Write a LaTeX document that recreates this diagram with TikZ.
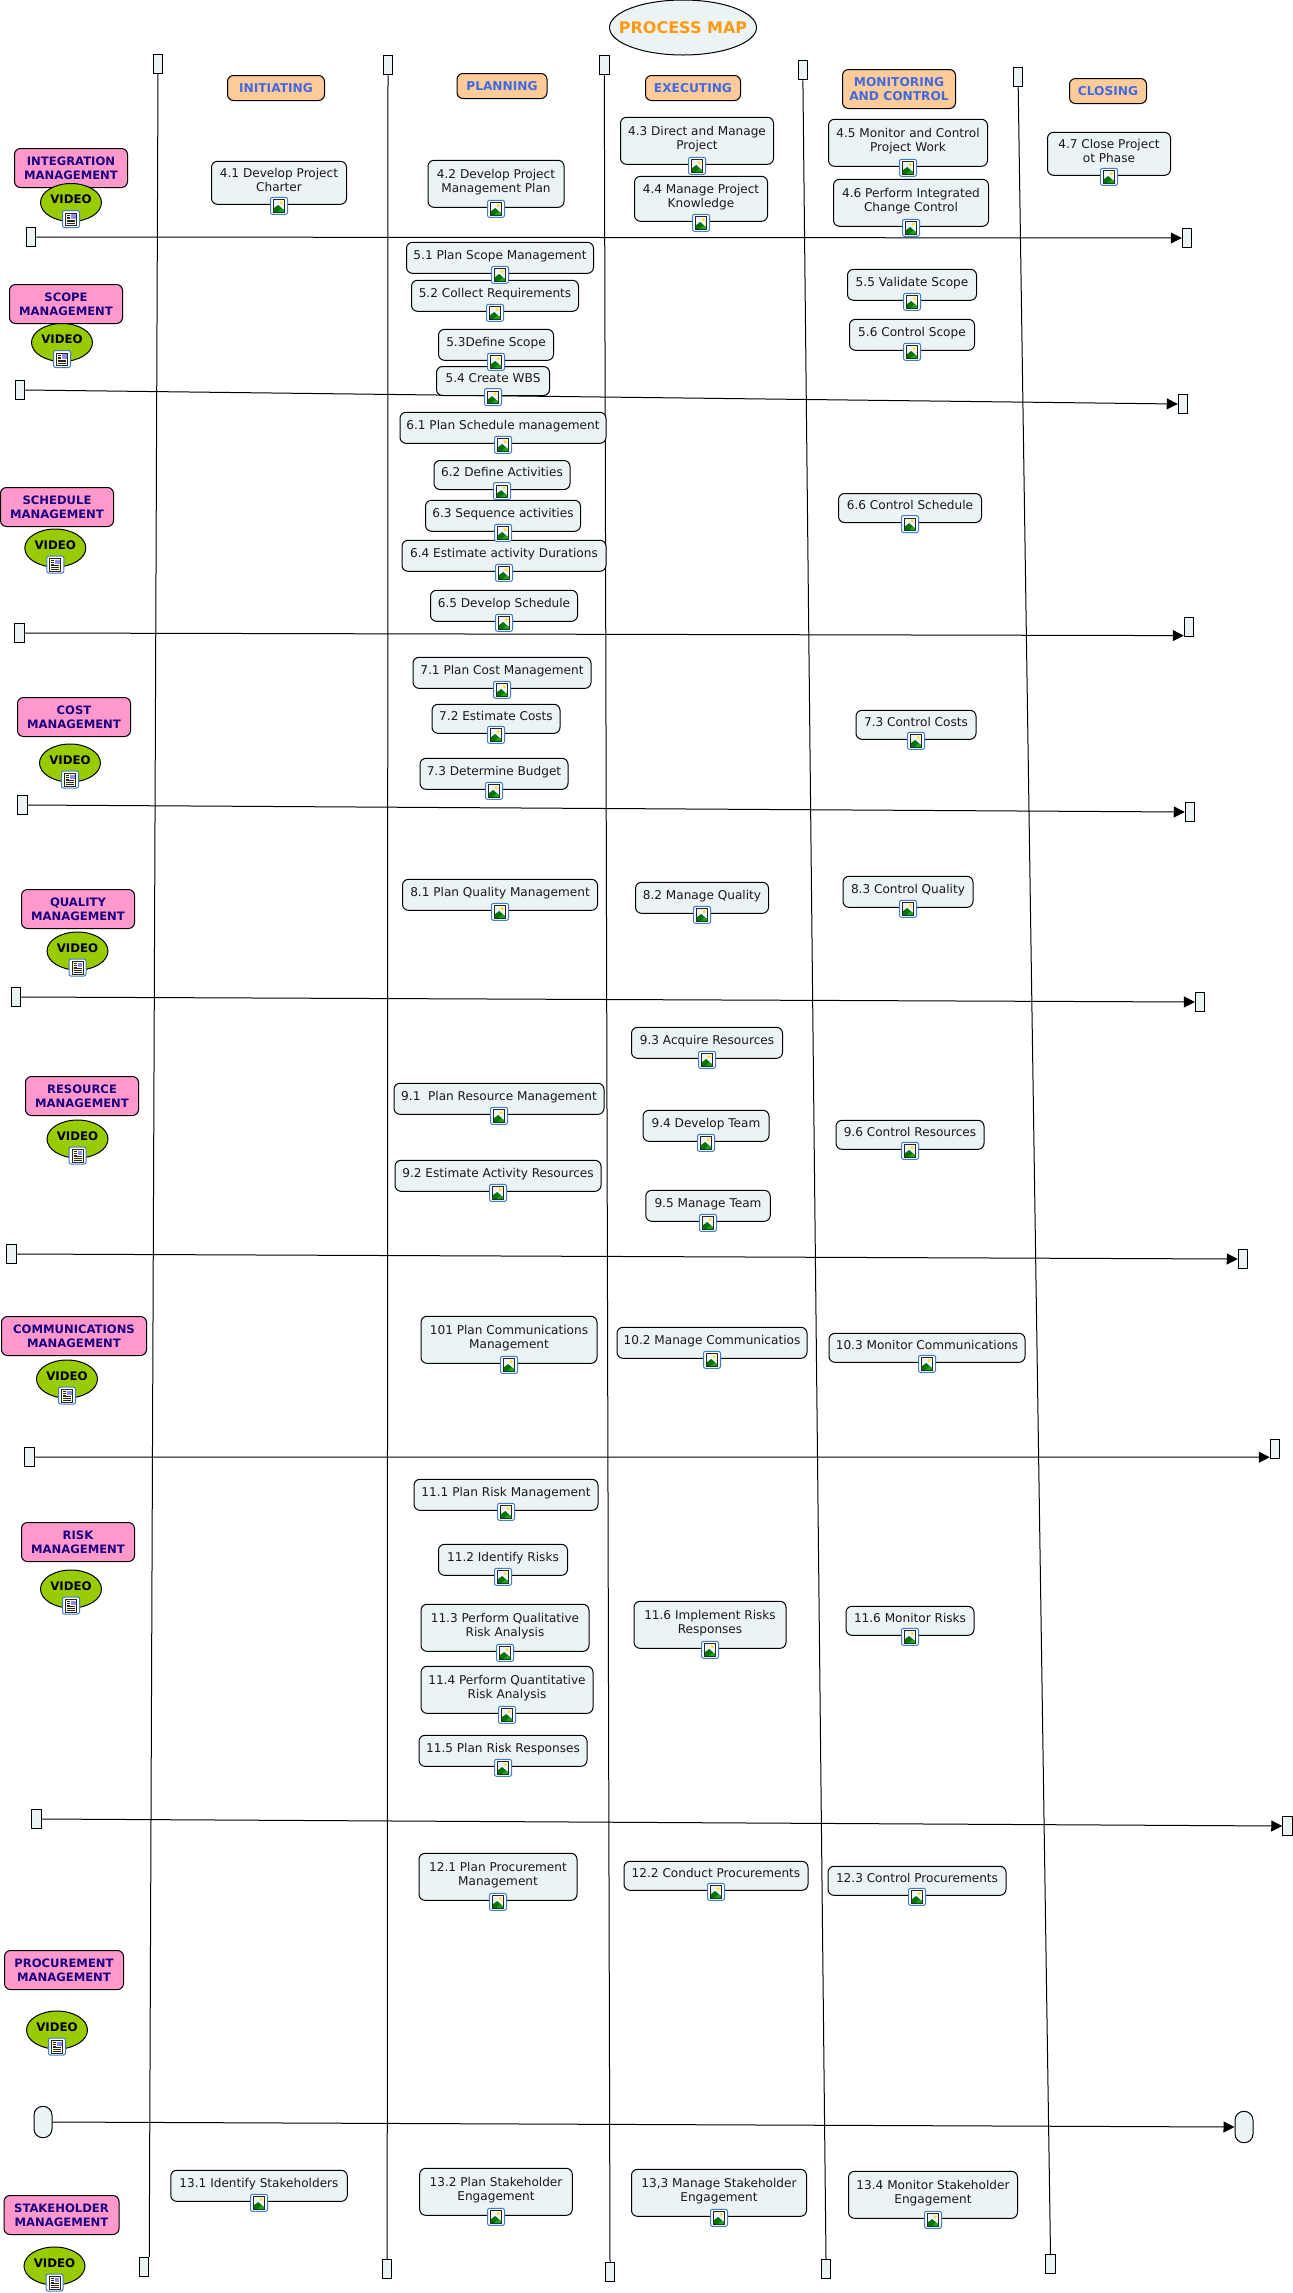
\documentclass[tikz,border=0pt]{standalone}
\usepackage{fontspec}
\setmainfont{DejaVu Sans}
\usepackage{tikz}
\usetikzlibrary{arrows.meta,shapes.geometric,shapes.misc}
\definecolor{boxfill}{HTML}{ECF3F5}
\definecolor{phasefill}{HTML}{FFCC99}
\definecolor{phasetext}{HTML}{4169E1}
\definecolor{areafill}{HTML}{FF99CC}
\definecolor{areatext}{HTML}{1A0080}
\definecolor{videofill}{HTML}{99CC00}
\definecolor{titletext}{HTML}{FF9912}
\definecolor{iconblue}{HTML}{3F7CCB}
\newcommand{\lowdepth}{\rule[-3pt]{0pt}{3pt}}
\tikzset{
  wh/.style 2 args={minimum width=#1*.5pt,minimum height=#2*.5pt},
  photoicon/.pic={
    \draw[iconblue,line width=.5pt,fill=white,rounded corners=1pt] (-8.5,-7.5) rectangle (8.5,9.5);
    \draw[black!85,line width=.5pt,fill=blue!5] (-5.5,-5) rectangle (5.5,7.5);
    \fill[green!45!black] (-5.2,7.2) -- (-5.2,3.5) -- (-.8,.2) -- (5.2,5.5) -- (5.2,7.2) -- cycle;
    \fill[green!60!black!90!white] (-1.5,7.2) -- (2.5,3.5) -- (5.2,5.5) -- (5.2,7.2) -- cycle;
    \fill[yellow!85!orange] (2.2,-2.2) circle (1.6);
  },
  docicon/.pic={
    \draw[iconblue,line width=.5pt,fill=white,rounded corners=1pt] (-8.5,-7.5) rectangle (8.5,9.5);
    \draw[black!85,line width=.5pt,fill=yellow!10] (-5.5,-5) rectangle (5.5,7.5);
    \fill[blue!45] (0,-3.8) rectangle (4.5,.5);
    \foreach \ly in {2,3.7,5.4} \draw[black!85,line width=.4pt] (-4,\ly) -- (4,\ly);
    \foreach \ly in {-3,-1,.8} \draw[black!85,line width=.4pt] (-4,\ly) -- (-1,\ly);
  }
}
\begin{document}
\begin{tikzpicture}[x=.5pt,y=-.5pt]
      \tikzstyle{task}=[rectangle,rounded corners=3pt,draw=black,line width=.5pt,fill=boxfill,inner sep=0pt,align=center,text=black!90,font=\fontsize{6.05}{7.3}\selectfont,execute at end node=\lowdepth]
      \tikzstyle{phase}=[rectangle,rounded corners=3pt,draw=black,line width=.5pt,fill=phasefill,inner sep=0pt,align=center,text=phasetext,font=\fontsize{6.1}{7.2}\selectfont\bfseries]
      \tikzstyle{area}=[rectangle,rounded corners=3pt,draw=black,line width=.5pt,fill=areafill,inner sep=0pt,align=center,text=areatext,font=\fontsize{5.8}{7.2}\selectfont\bfseries]
      \tikzstyle{video}=[ellipse,draw=black,line width=.5pt,fill=videofill,inner sep=0pt,minimum width=30.5pt,minimum height=19pt,font=\fontsize{5.9}{7.2}\selectfont\bfseries,execute at end node=\lowdepth]
      \tikzstyle{handle}=[rectangle,draw=black,line width=.5pt,fill=boxfill,inner sep=0pt,minimum width=4.75pt,minimum height=9.75pt]
      \tikzstyle{pill}=[rectangle,rounded corners=4.4pt,draw=black,line width=.5pt,fill=boxfill,inner sep=0pt,minimum width=9pt,minimum height=15.7pt]
      \tikzstyle{rule}=[line width=.5pt]
      \tikzstyle{flow}=[line width=.5pt,-{Triangle[length=5.5pt,width=5.5pt]}]
      \useasboundingbox (0,0) rectangle (1293,2293);

      % handles of the columns
      \node[handle] (coltop1) at (158,63.8) {};
      \node[handle] (colend1) at (144,2267) {};
      \node[handle] (coltop2) at (388,65) {};
      \node[handle] (colend2) at (387.2,2269) {};
      \node[handle] (coltop3) at (604.3,65) {};
      \node[handle] (colend3) at (610,2272) {};
      \node[handle] (coltop4) at (802.9,70) {};
      \node[handle] (colend4) at (826,2269) {};
      \node[handle] (coltop5) at (1018.2,77) {};
      \node[handle] (colend5) at (1050.5,2264) {};

      \draw[rule] (coltop1.south) -- (colend1.north east);
      \draw[rule] (coltop2.south) -- (colend2.north);
      \draw[rule] (coltop3.south) -- (colend3.north);
      \draw[rule] (coltop4.south) -- (colend4.north);
      \draw[rule] (coltop5.south) -- (colend5.north);

      % handles of the rows
      \node[handle] (rowa1) at (31,237) {};
      \node[handle] (rowb1) at (1187,238) {};
      \node[handle] (rowa2) at (20,390) {};
      \node[handle] (rowb2) at (1183,404) {};
      \node[handle] (rowa3) at (19.4,633) {};
      \node[handle] (rowb3) at (1189,627) {};
      \node[handle] (rowa4) at (22.3,805) {};
      \node[handle] (rowb4) at (1190,812) {};
      \node[handle] (rowa5) at (16,997) {};
      \node[handle] (rowb5) at (1200.2,1002) {};
      \node[handle] (rowa6) at (11.5,1254) {};
      \node[handle] (rowb6) at (1243,1259) {};
      \node[handle] (rowa7) at (29.3,1457) {};
      \node[handle] (rowb7) at (1275,1449) {};
      \node[handle] (rowa8) at (36.3,1819) {};
      \node[handle] (rowb8) at (1287.5,1826) {};
      \node[pill] (rowa9) at (43,2122) {};
      \node[pill] (rowb9) at (1244,2127) {};

      \draw[flow] (rowa1.east) -- (rowb1.west);
      \draw[flow] (rowa2.east) -- (rowb2.west);
      \draw[flow] (rowa3.east) -- ([yshift=-4.3pt]rowb3.west);
      \draw[flow] (rowa4.east) -- (rowb4.west);
      \draw[flow] (rowa5.east) -- (rowb5.west);
      \draw[flow] (rowa6.east) -- (rowb6.west);
      \draw[flow] (rowa7.east) -- ([yshift=-4.1pt]rowb7.west);
      \draw[flow] (rowa8.east) -- (rowb8.west);
      \draw[flow] (rowa9.east) -- (rowb9.west);

      \node[ellipse,draw=black,line width=.5pt,fill=boxfill,inner sep=0pt,wh={147}{55},text=titletext,font=\fontsize{8}{9}\selectfont\bfseries] (title) at (683,27.5) {\makebox[0pt]{PROCESS MAP}};

      % process groups
      \node[phase,wh={97}{25}] (initiating) at (276,88) {INITIATING};
      \node[phase,wh={90}{25}] (planning) at (502,86) {PLANNING};
      \node[phase,wh={95}{25}] (executing) at (693,88) {EXECUTING};
      \node[phase,wh={113}{39}] (monitoring) at (899,89) {MONITORING\\AND CONTROL};
      \node[phase,wh={77}{25}] (closing) at (1108,91) {CLOSING};

      % knowledge areas
      \node[area,wh={113}{39}] (integration) at (71,168) {INTEGRATION\\MANAGEMENT};
      \node[area,wh={113}{39}] (scope) at (66,304) {SCOPE\\MANAGEMENT};
      \node[area,wh={113}{39}] (schedule) at (57,507) {SCHEDULE\\MANAGEMENT};
      \node[area,wh={113}{39}] (cost) at (74,717) {COST\\MANAGEMENT};
      \node[area,wh={113}{39}] (quality) at (78,909) {QUALITY\\MANAGEMENT};
      \node[area,wh={113}{39}] (resource) at (82,1096) {RESOURCE\\MANAGEMENT};
      \node[area,wh={145}{39}] (communications) at (74,1336) {COMMUNICATIONS\\MANAGEMENT};
      \node[area,wh={113}{39}] (risk) at (78,1542) {RISK\\MANAGEMENT};
      \node[area,wh={119}{39}] (procurement) at (64,1970) {PROCUREMENT\\MANAGEMENT};
      \node[area,wh={115}{39}] (stakeholder) at (61.5,2215) {STAKEHOLDER\\MANAGEMENT};

      \node[video] (video1) at (71,202.5) {VIDEO};
      \node[video] (video2) at (62,342.5) {VIDEO};
      \node[video] (video3) at (55.3,548) {VIDEO};
      \node[video] (video4) at (70,763) {VIDEO};
      \node[video] (video5) at (77.5,951) {VIDEO};
      \node[video] (video6) at (77.5,1139) {VIDEO};
      \node[video] (video7) at (67,1379) {VIDEO};
      \node[video] (video8) at (71,1589) {VIDEO};
      \node[video] (video9) at (57,2030) {VIDEO};
      \node[video] (video10) at (54.5,2266) {VIDEO};

      % integration
      \node[task,wh={135}{43}] (charter) at (279,182.8) {4.1 Develop Project\\Charter};
      \node[task,wh={136}{47}] (pmplan) at (496,183.8) {4.2 Develop Project\\Management Plan};
      \node[task,wh={153}{47}] (direct) at (697,140.8) {4.3 Direct and Manage\\Project};
      \node[task,wh={133}{45}] (knowledge) at (701,198.8) {4.4 Manage Project\\Knowledge};
      \node[task,wh={159}{47}] (monwork) at (908,142.8) {4.5 Monitor and Control\\Project Work};
      \node[task,wh={155}{47}] (change) at (911,202.8) {4.6 Perform Integrated\\Change Control};
      \node[task,wh={123}{43}] (closeph) at (1109,153.8) {4.7 Close Project\\ot Phase};
      % scope
      \node[task,wh={187}{31}] (planscope) at (500,257.8) {5.1 Plan Scope Management};
      \node[task,wh={167}{31}] (collect) at (495,295.8) {5.2 Collect Requirements};
      \node[task,wh={115}{31}] (define) at (496,344.8) {5.3Define Scope};
      \node[task,wh={113}{29}] (wbs) at (493,381) {5.4 Create WBS};
      \node[task,wh={129}{31}] (validate) at (912,284.8) {5.5 Validate Scope};
      \node[task,wh={125}{31}] (ctlscope) at (912,334.8) {5.6 Control Scope};
      % schedule
      \node[task,wh={206}{31}] (plansched) at (503,427.8) {6.1 Plan Schedule management};
      \node[task,wh={136}{29}] (activities) at (502,475) {6.2 Define Activities};
      \node[task,wh={155}{31}] (sequence) at (503,515.8) {6.3 Sequence activities};
      \node[task,wh={204}{31}] (durations) at (504,555.8) {6.4 Estimate activity Durations};
      \node[task,wh={147}{31}] (devsched) at (504,605.8) {6.5 Develop Schedule};
      \node[task,wh={143}{29}] (ctlsched) at (910,508) {6.6 Control Schedule};
      % cost
      \node[task,wh={178}{31}] (plancost) at (502,672.8) {7.1 Plan Cost Management};
      \node[task,wh={128}{29}] (estcost) at (496,718.8) {7.2 Estimate Costs};
      \node[task,wh={148}{31}] (budget) at (494,773.8) {7.3 Determine Budget};
      \node[task,wh={120}{29}] (ctlcost) at (916,724.8) {7.3 Control Costs};
      % quality
      \node[task,wh={195}{31}] (planqual) at (500,894.8) {8.1 Plan Quality Management};
      \node[task,wh={133}{31}] (mgqual) at (702,897.8) {8.2 Manage Quality};
      \node[task,wh={130}{31}] (ctlqual) at (908,891.8) {8.3 Control Quality};
      % resources
      \node[task,wh={210}{31}] (planres) at (499,1098.8) {9.1\ \ Plan Resource Management};
      \node[task,wh={206}{31}] (estres) at (498,1175.8) {9.2 Estimate Activity Resources};
      \node[task,wh={151}{31}] (acquire) at (707,1042.8) {9.3 Acquire Resources};
      \node[task,wh={126}{31}] (devteam) at (706,1125.8) {9.4 Develop Team};
      \node[task,wh={124.5}{31}] (mgteam) at (708,1205.8) {9.5 Manage Team};
      \node[task,wh={148}{29}] (ctlres) at (910,1134.8) {9.6 Control Resources};
      % communications
      \node[task,wh={176}{47}] (plancomm) at (509,1339.8) {101 Plan Communications\\Management};
      \node[task,wh={190}{31}] (mgcomm) at (712,1342.8) {10.2 Manage Communicatios};
      \node[task,wh={196}{29}] (moncomm) at (927,1347.8) {10.3 Monitor Communications};
      % risk
      \node[task,wh={184}{31}] (planrisk) at (506,1494.8) {11.1 Plan Risk Management};
      \node[task,wh={129}{31}] (identrisk) at (503,1559.8) {11.2 Identify Risks};
      \node[task,wh={168}{47}] (qualrisk) at (505,1627.8) {11.3 Perform Qualitative\\Risk Analysis};
      \node[task,wh={172}{47}] (quantrisk) at (507,1689.8) {11.4 Perform Quantitative\\Risk Analysis};
      \node[task,wh={168}{31}] (resprisk) at (503,1750.8) {11.5 Plan Risk Responses};
      \node[task,wh={152}{47}] (implrisk) at (710,1624.8) {11.6 Implement Risks\\Responses};
      \node[task,wh={128}{29}] (monrisk) at (910,1620.8) {11.6 Monitor Risks};
      % procurement
      \node[task,wh={158}{47}] (planproc) at (498,1876.8) {12.1 Plan Procurement\\Management};
      \node[task,wh={184}{29}] (condproc) at (716,1875.8) {12.2 Conduct Procurements};
      \node[task,wh={178}{29}] (ctlproc) at (917,1880.8) {12.3 Control Procurements};
      % stakeholders
      \node[task,wh={176.5}{31}] (identst) at (259,2185.8) {13.1 Identify Stakeholders};
      \node[task,wh={152.6}{47}] (planst) at (496,2191.8) {13.2 Plan Stakeholder\\Engagement};
      \node[task,wh={175}{47}] (mgst) at (719,2192.8) {13,3 Manage Stakeholder\\Engagement};
      \node[task,wh={169}{47}] (monst) at (933,2194.8) {13.4 Monitor Stakeholder\\Engagement};

      \foreach \n in {charter,pmplan,direct,knowledge,monwork,change,closeph,planscope,collect,define,wbs,validate,ctlscope,plansched,activities,sequence,durations,devsched,ctlsched,plancost,estcost,budget,ctlcost,planqual,mgqual,ctlqual,planres,estres,acquire,devteam,mgteam,ctlres,plancomm,mgcomm,moncomm,planrisk,identrisk,qualrisk,quantrisk,resprisk,implrisk,monrisk,planproc,condproc,ctlproc,identst,planst,mgst,monst}
        \pic at (\n.south) {photoicon};
      \foreach \n in {1,...,10}
        \pic at ([yshift=2pt]video\n.south) {docicon};
    \end{tikzpicture}
\end{document}
